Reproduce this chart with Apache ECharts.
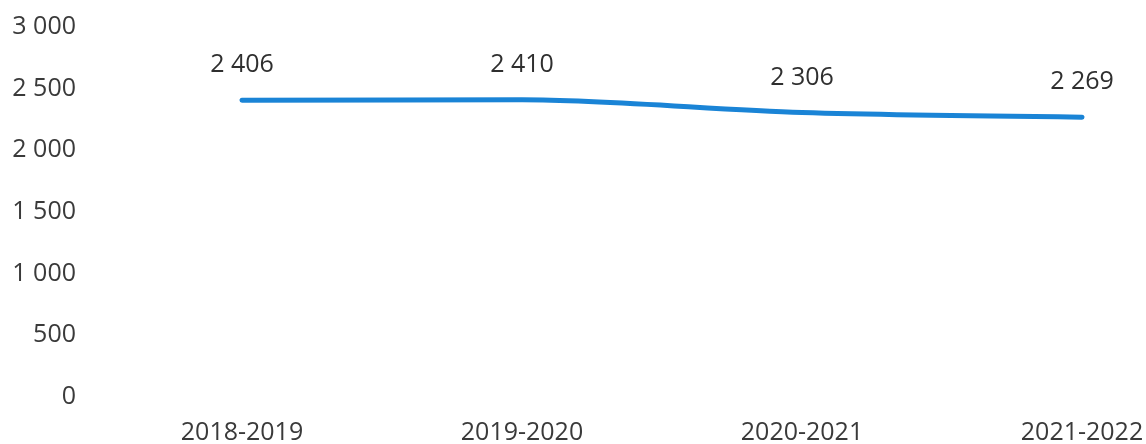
<!DOCTYPE html>
<html>
<head>
<meta charset="utf-8">
<script src="https://cdn.jsdelivr.net/npm/echarts@6/dist/echarts.min.js"></script>
<style>
  html, body { margin: 0; padding: 0; background: #fff; }
  #chart { width: 1146px; height: 444px; }
</style>
</head>
<body>
<div id="chart"></div>
<script>
/* ===== data ===== */
const years = ['2018-2019', '2019-2020', '2020-2021', '2021-2022'];
const values = [2406, 2410, 2306, 2269];
const yTicks = [0, 500, 1000, 1500, 2000, 2500, 3000];

// 2406 -> "2 406"
const fmt = v => String(v).replace(/\B(?=(\d{3})+(?!\d))/g, ' ');

const chart = echarts.init(document.getElementById('chart'));

chart.setOption({
  backgroundColor: '#fff',
  textStyle: { fontFamily: 'Open Sans' },
  grid: { left: 242, right: 64, top: 27, bottom: 47, outerBoundsMode: 'none' },
  xAxis: {
    type: 'category',
    data: years,
    boundaryGap: false,
    axisLine: { show: false },
    axisTick: { show: false },
    axisLabel: { color: '#3a3a3a', fontSize: 25, margin: 23 }
  },
  yAxis: {
    type: 'value',
    min: yTicks[0],
    max: yTicks[yTicks.length - 1],
    interval: 500,
    splitLine: { show: false },
    axisLine: { show: false },
    axisTick: { show: false },
    axisLabel: { color: '#3a3a3a', fontSize: 25, margin: 166, formatter: fmt }
  },
  series: [{
    type: 'line',
    data: values,
    smooth: 0.3,
    // labels need a symbol to hang on, keep it invisible
    symbol: 'circle',
    symbolSize: 1,
    itemStyle: { color: '#1a84d6' },
    lineStyle: { color: '#1a84d6', width: 5, cap: 'round' },
    label: {
      show: true,
      position: 'top',
      distance: 22,
      color: '#2f2f2f',
      fontSize: 25,
      formatter: p => fmt(p.value)
    }
  }]
});
</script>
</body>
</html>
